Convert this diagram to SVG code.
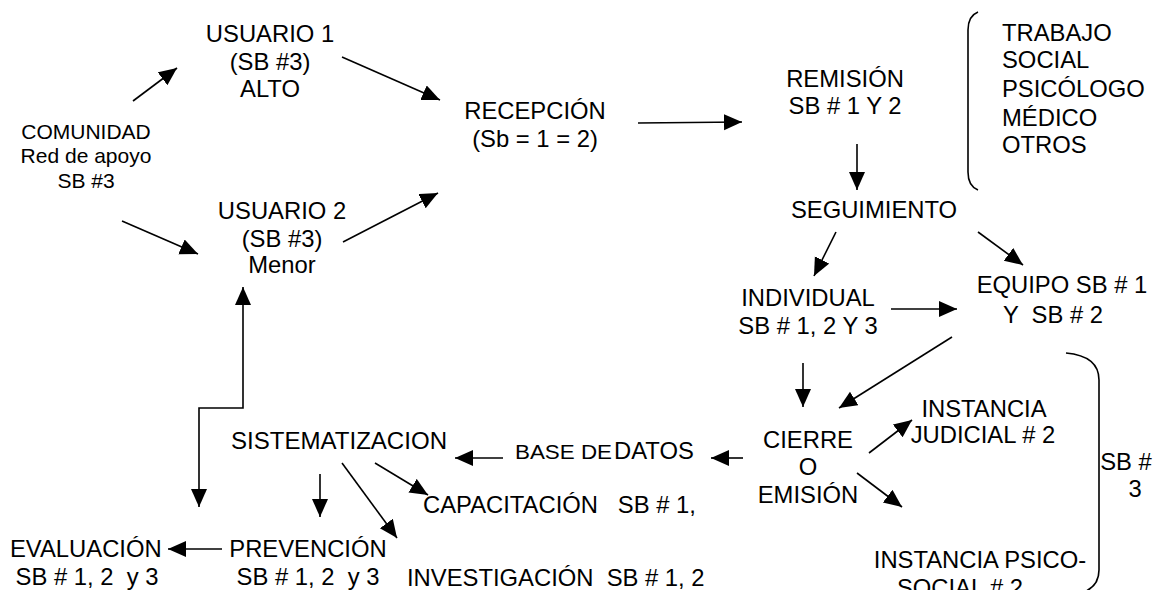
<svg xmlns="http://www.w3.org/2000/svg" width="1164" height="590" viewBox="0 0 1164 590">
<style>
text{font-family:"Liberation Sans",Arial,sans-serif;font-size:23.8px;fill:#000}
.c{text-anchor:middle}
.sm{font-size:21px}
.conn line,.conn path{stroke:#000;stroke-width:1.6;fill:none}
.br{stroke:#000;stroke-width:1.6;fill:none}
</style>
<defs>
<marker id="ah" markerUnits="userSpaceOnUse" markerWidth="19" markerHeight="17" refX="18" refY="8" orient="auto-start-reverse" viewBox="0 0 19 17">
<path d="M0,0 L18,8 L0,16 z" fill="#000"/>
</marker>
</defs>
<rect width="1164" height="590" fill="#fff"/>
<g class="conn">
<line x1="133" y1="101" x2="177" y2="68" marker-end="url(#ah)"/>
<line x1="122" y1="221" x2="198" y2="254" marker-end="url(#ah)"/>
<line x1="342" y1="57" x2="440" y2="100" marker-end="url(#ah)"/>
<line x1="343" y1="242" x2="438" y2="193" marker-end="url(#ah)"/>
<line x1="638" y1="123" x2="742" y2="122" marker-end="url(#ah)"/>
<line x1="857" y1="144" x2="857" y2="190" marker-end="url(#ah)"/>
<line x1="836" y1="232" x2="814" y2="276" marker-end="url(#ah)"/>
<line x1="978" y1="232" x2="1023" y2="265" marker-end="url(#ah)"/>
<line x1="891" y1="309" x2="957" y2="309" marker-end="url(#ah)"/>
<line x1="803" y1="363" x2="803" y2="407" marker-end="url(#ah)"/>
<line x1="952" y1="337" x2="839" y2="408" marker-end="url(#ah)"/>
<line x1="869" y1="453" x2="912" y2="420" marker-end="url(#ah)"/>
<line x1="857" y1="473" x2="902" y2="507" marker-end="url(#ah)"/>
<line x1="743" y1="458" x2="711" y2="458" marker-end="url(#ah)"/>
<line x1="503" y1="458" x2="455" y2="458" marker-end="url(#ah)"/>
<line x1="320" y1="474" x2="320" y2="517" marker-end="url(#ah)"/>
<line x1="342" y1="463" x2="397" y2="538" marker-end="url(#ah)"/>
<line x1="375" y1="463" x2="428" y2="495" marker-end="url(#ah)"/>
<line x1="222" y1="549" x2="168" y2="549" marker-end="url(#ah)"/>
<path d="M199,507 V408 H243 V287" marker-start="url(#ah)" marker-end="url(#ah)"/>
</g>
<g id="bracket-left"><path class="br" d="M978,12 Q968,16 968,30 V172 Q968,186 978,190"/></g>
<g id="bracket-right"><path class="br" d="M1066,353 Q1099,356 1099,380 V570 Q1099,586 1084,592"/></g>
<g id="comunidad"><text class="c sm"><tspan x="86" y="139">COMUNIDAD</tspan><tspan x="86" y="163">Red de apoyo</tspan><tspan x="86" y="188">SB #3</tspan></text></g>
<g id="usuario1"><text class="c"><tspan x="270" y="42">USUARIO 1</tspan><tspan x="270" y="70">(SB #3)</tspan><tspan x="270" y="97">ALTO</tspan></text></g>
<g id="usuario2"><text class="c"><tspan x="282" y="219">USUARIO 2</tspan><tspan x="282" y="247">(SB #3)</tspan><tspan x="282" y="273">Menor</tspan></text></g>
<g id="recepcion"><text class="c"><tspan x="535" y="119">RECEPCIÓN</tspan><tspan x="535" y="147">(Sb = 1 = 2)</tspan></text></g>
<g id="remision"><text class="c"><tspan x="845" y="87">REMISIÓN</tspan><tspan x="845" y="114">SB # 1 Y 2</tspan></text></g>
<g id="profesionales"><text><tspan x="1002" y="41">TRABAJO</tspan><tspan x="1002" y="68">SOCIAL</tspan><tspan x="1002" y="97">PSICÓLOGO</tspan><tspan x="1002" y="126">MÉDICO</tspan><tspan x="1002" y="153">OTROS</tspan></text></g>
<g id="seguimiento"><text class="c" x="874" y="218">SEGUIMIENTO</text></g>
<g id="individual"><text class="c"><tspan x="808" y="306">INDIVIDUAL</tspan><tspan x="808" y="334">SB # 1, 2 Y 3</tspan></text></g>
<g id="equipo"><text class="c" xml:space="preserve"><tspan x="1062" y="293">EQUIPO SB # 1</tspan><tspan x="1053" y="323">Y  SB # 2</tspan></text></g>
<g id="cierre"><text class="c"><tspan x="808" y="448">CIERRE</tspan><tspan x="808" y="475">O</tspan><tspan x="808" y="503">EMISIÓN</tspan></text></g>
<g id="judicial"><text class="c"><tspan x="984" y="417">INSTANCIA</tspan><tspan x="983" y="443">JUDICIAL # 2</tspan></text></g>
<g id="sb3"><text class="c"><tspan x="1126" y="470">SB #</tspan><tspan x="1135" y="497">3</tspan></text></g>
<g id="psicosocial"><text class="c"><tspan x="980" y="568">INSTANCIA PSICO-</tspan><tspan x="960" y="596">SOCIAL # 2</tspan></text></g>
<g id="basedatos"><text y="459"><tspan x="515" textLength="97" lengthAdjust="spacingAndGlyphs" style="font-size:19.5px">BASE DE</tspan><tspan x="614">DATOS</tspan></text></g>
<g id="sistematizacion"><text x="231" y="449" textLength="216" lengthAdjust="spacingAndGlyphs">SISTEMATIZACION</text></g>
<g id="capacitacion"><text x="423" y="513" xml:space="preserve">CAPACITACIÓN   SB # 1,</text></g>
<g id="investigacion"><text x="407" y="586" xml:space="preserve">INVESTIGACIÓN  SB # 1, 2</text></g>
<g id="evaluacion"><text xml:space="preserve"><tspan x="10" y="557">EVALUACIÓN</tspan><tspan x="87" y="585" text-anchor="middle">SB # 1, 2  y 3</tspan></text></g>
<g id="prevencion"><text class="c" xml:space="preserve"><tspan x="308" y="557">PREVENCIÓN</tspan><tspan x="308" y="585">SB # 1, 2  y 3</tspan></text></g>
</svg>
